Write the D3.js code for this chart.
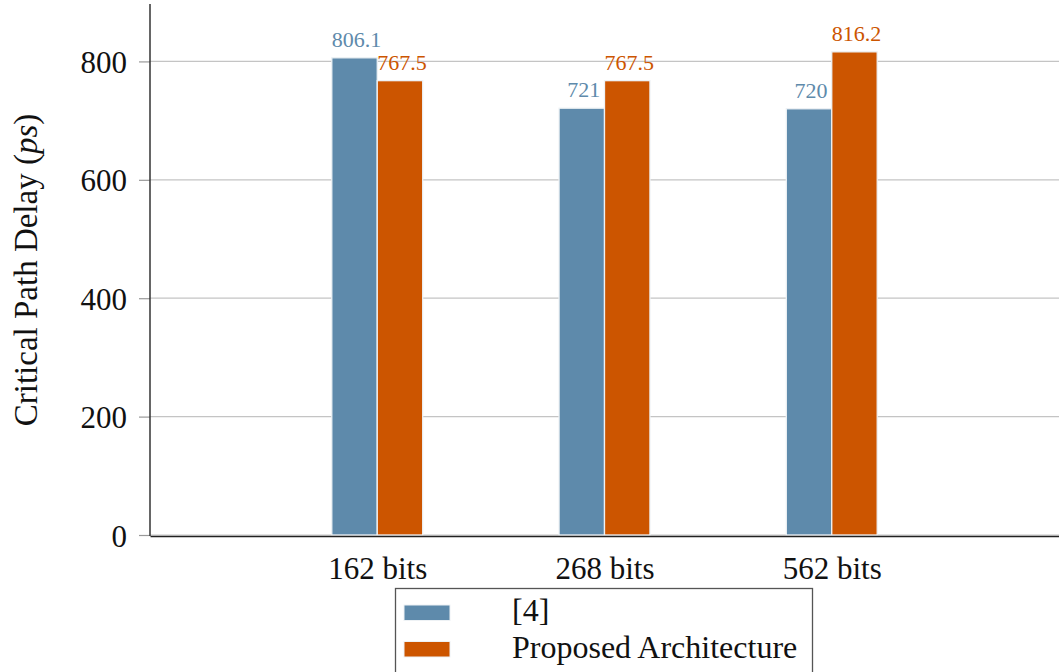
<!DOCTYPE html>
<html>
<head>
<meta charset="utf-8">
<script src="https://cdn.jsdelivr.net/npm/d3@7"></script>
<style>
  html, body { margin: 0; padding: 0; background: #fff; overflow: hidden; }
  svg { display: block; font-family: "Liberation Serif", "Times New Roman", serif; }
</style>
</head>
<body>
<div id="chart"></div>
<script>
// data
const categories = ['162 bits', '268 bits', '562 bits'];
const seriesNames = ['[4]', 'Proposed Architecture'];
const refValues = [806.1, 721, 720];
const proposedValues = [767.5, 767.5, 816.2];
const yTicks = [0, 200, 400, 600, 800];
const barLabels = [['806.1', '721', '720'], ['767.5', '767.5', '816.2']];

const colors = ['#5e8aab', '#cc5500'];

const width = 1059;
const height = 672;
const margin = {top: 4, left: 150, right: 0, bottom: 137};

const svg = d3.select('#chart')
    .append('svg')
    .attr('width', width)
    .attr('height', height);

const xScale = d3.scaleLinear()
    .domain([0, categories.length + 1])
    .range([margin.left, width - margin.right]);
const yScale = d3.scaleLinear()
    .domain([0, 897])
    .range([height - margin.bottom, margin.top]);

const barW = 0.2;

// grid lines
svg.append('g')
    .selectAll('line')
    .data(yTicks)
    .enter()
    .append('line')
    .attr('x1', margin.left)
    .attr('x2', width)
    .attr('y1', (d) => yScale(d))
    .attr('y2', (d) => yScale(d))
    .attr('stroke', '#c4c4c4')
    .attr('stroke-width', 1.2);

// bars
const series = [refValues, proposedValues];
series.forEach((vals, s) => {
  const g = svg.append('g');
  g.selectAll('rect')
      .data(vals)
      .enter()
      .append('rect')
      .attr('x', (d, i) => xScale(i + 1 - barW + s * barW))
      .attr('y', (d) => yScale(d))
      .attr('width', xScale(barW) - xScale(0))
      .attr('height', (d) => yScale(0) - yScale(d))
      .attr('fill', colors[s])
      .attr('stroke', '#eef2f5')
      .attr('stroke-width', 1.3);
  g.selectAll('text')
      .data(vals)
      .enter()
      .append('text')
      .attr('x', (d, i) => xScale(i + 1 - barW / 2 + s * barW) + 2)
      .attr('y', (d) => yScale(d) - 11)
      .attr('text-anchor', 'middle')
      .attr('font-size', 22)
      .attr('fill', colors[s])
      .text((d, i) => barLabels[s][i]);
});

// y axis
const yAxis = svg.append('g')
    .attr('transform', 'translate(' + margin.left + ',0)')
    .call(d3.axisLeft(yScale).tickValues(yTicks).tickSize(11).tickPadding(12));
yAxis.select('.domain').remove();
yAxis.selectAll('.tick line').attr('stroke', '#999').attr('stroke-width', 1.2);
yAxis.selectAll('.tick text')
    .attr('font-size', 31)
    .attr('font-family', '"Liberation Serif", serif')
    .attr('fill', '#111')
    .attr('dy', '0.36em');

svg.append('line')
    .attr('x1', margin.left).attr('x2', margin.left)
    .attr('y1', margin.top).attr('y2', yScale(0) + 1)
    .attr('stroke', '#333').attr('stroke-width', 1.5);

// x axis
const xAxis = svg.append('g')
    .attr('transform', 'translate(0,' + (yScale(0) + 1) + ')')
    .call(d3.axisBottom(xScale)
        .tickValues(categories.map((c, i) => i + 1))
        .tickFormat((d) => categories[d - 1])
        .tickSize(0)
        .tickPadding(21));
xAxis.select('.domain').attr('stroke', '#222').attr('stroke-width', 1.5);
xAxis.selectAll('.tick text')
    .attr('font-size', 31)
    .attr('font-family', '"Liberation Serif", serif')
    .attr('fill', '#111');

// y label
svg.append('text')
    .attr('transform', 'translate(37,270) rotate(-90)')
    .attr('text-anchor', 'middle')
    .attr('font-size', 33)
    .attr('fill', '#111')
    .text('Critical Path Delay (')
    .append('tspan').attr('font-style', 'italic').text('ps')
    .select(function() { return this.parentNode; })
    .append('tspan').text(')');

// legend
const legend = svg.append('g');
legend.append('rect')
    .attr('x', 395.5).attr('y', 588.5)
    .attr('width', 417).attr('height', 120)
    .attr('fill', '#fff')
    .attr('stroke', '#555')
    .attr('stroke-width', 1.3);
seriesNames.forEach((name, i) => {
  legend.append('rect')
      .attr('x', 404).attr('y', 605 + i * 36.5)
      .attr('width', 46).attr('height', 15.5)
      .attr('fill', colors[i])
      .attr('stroke', '#eef2f5')
      .attr('stroke-width', 1);
  legend.append('text')
      .attr('x', 512).attr('y', 621 + i * 36.8)
      .attr('font-size', 32)
      .attr('fill', '#111')
      .text(name);
});
</script>
</body>
</html>
